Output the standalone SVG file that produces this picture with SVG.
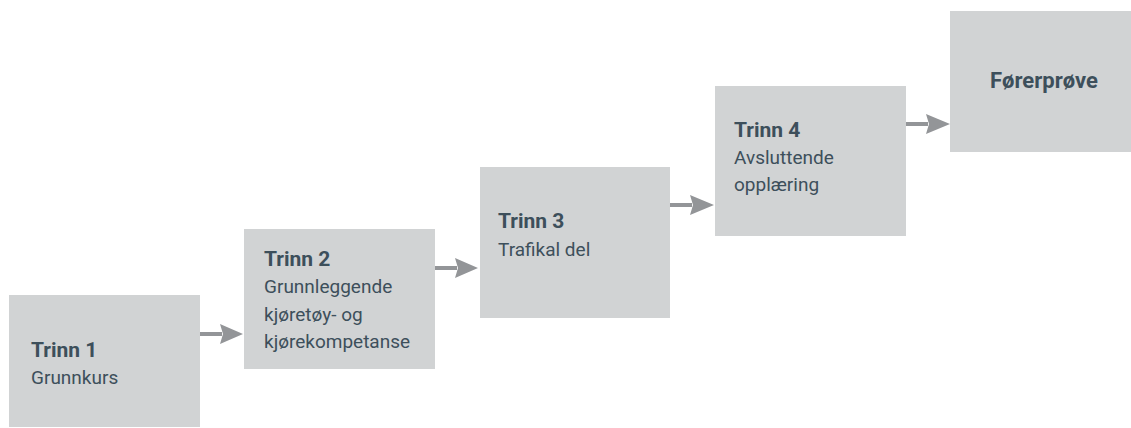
<svg xmlns="http://www.w3.org/2000/svg" width="1131" height="428" viewBox="0 0 1131 428">
<style>
.box{fill:#d1d3d4}
.t{font-family:Roboto,"Liberation Sans",sans-serif;fill:#3d4f5b}
.b{font-weight:bold;font-size:21px}
.r{font-size:19px}
.shaft{stroke:#939598;stroke-width:4;fill:none}
.head{fill:#939598}
</style>
<rect width="1131" height="428" fill="#ffffff"/>
<g id="connectors">
<g id="a1"><line class="shaft" x1="200" y1="334" x2="222" y2="334"/><polygon class="head" points="220,324 243,334 220,344 223,334"/></g>
<g id="a2"><line class="shaft" x1="435" y1="268" x2="457" y2="268"/><polygon class="head" points="455,258 478,268 455,278 458,268"/></g>
<g id="a3"><line class="shaft" x1="670" y1="205" x2="692" y2="205"/><polygon class="head" points="690,195 714,205 690,215 693,205"/></g>
<g id="a4"><line class="shaft" x1="906" y1="124" x2="928" y2="124"/><polygon class="head" points="926,114 950,124 926,134 929,124"/></g>
</g>
<g id="n1"><rect class="box" x="9" y="295" width="191" height="132"/><text class="t b" x="31" y="357">Trinn 1</text><text class="t r" x="31" y="384">Grunnkurs</text></g>
<g id="n2"><rect class="box" x="244" y="229" width="191" height="140"/><text class="t b" x="264" y="266">Trinn 2</text><text class="t r" x="264" y="293">Grunnleggende</text><text class="t r" x="264" y="321">kjøretøy- og</text><text class="t r" x="264" y="348">kjørekompetanse</text></g>
<g id="n3"><rect class="box" x="480" y="167" width="190" height="151"/><text class="t b" x="498" y="228">Trinn 3</text><text class="t r" x="498" y="256">Trafikal del</text></g>
<g id="n4"><rect class="box" x="715" y="86" width="191" height="150"/><text class="t b" x="734" y="137">Trinn 4</text><text class="t r" x="734" y="164">Avsluttende</text><text class="t r" x="734" y="191">opplæring</text></g>
<g id="n5"><rect class="box" x="950" y="11" width="181" height="141"/><text class="t b" x="990" y="88" style="font-size:22px">Førerprøve</text></g>
</svg>
